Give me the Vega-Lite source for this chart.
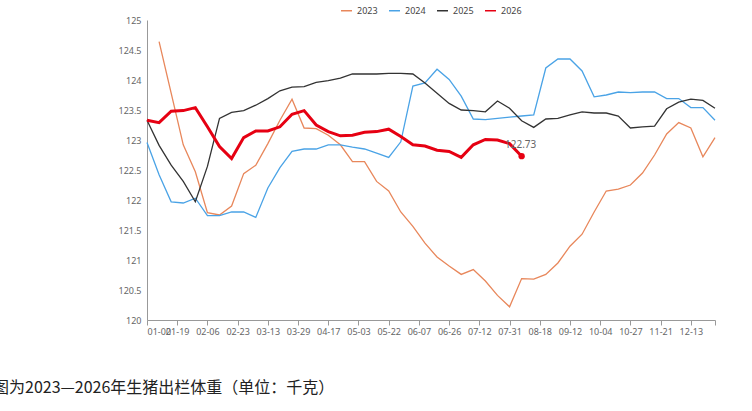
{
"$schema":"https://vega.github.io/schema/vega-lite/v6.json",
"width":568,"height":300,
"autosize":{"type":"none"},
"padding":{"left":147,"top":20,"right":37,"bottom":91},
"background":"white",
"title":{"text":"图为2023—2026年生猪出栏体重（单位：千克）","orient":"bottom","anchor":"start","dx":-125,"offset":44,"fontSize":16,"fontWeight":"normal","font":"Noto Sans CJK SC","color":"#222"},
"datasets":{"d":[
{"s":"2023","i":1,"v":124.64},{"s":"2023","i":2,"v":123.78},{"s":"2023","i":3,"v":122.92},{"s":"2023","i":4,"v":122.47},{"s":"2023","i":5,"v":121.79},{"s":"2023","i":6,"v":121.75},{"s":"2023","i":7,"v":121.9},{"s":"2023","i":8,"v":122.44},{"s":"2023","i":9,"v":122.58},{"s":"2023","i":10,"v":122.94},{"s":"2023","i":11,"v":123.33},{"s":"2023","i":12,"v":123.68},{"s":"2023","i":13,"v":123.2},{"s":"2023","i":14,"v":123.19},{"s":"2023","i":15,"v":123.08},{"s":"2023","i":16,"v":122.92},{"s":"2023","i":17,"v":122.64},{"s":"2023","i":18,"v":122.64},{"s":"2023","i":19,"v":122.31},{"s":"2023","i":20,"v":122.15},{"s":"2023","i":21,"v":121.8},{"s":"2023","i":22,"v":121.56},{"s":"2023","i":23,"v":121.28},{"s":"2023","i":24,"v":121.05},{"s":"2023","i":25,"v":120.9},{"s":"2023","i":26,"v":120.76},{"s":"2023","i":27,"v":120.84},{"s":"2023","i":28,"v":120.65},{"s":"2023","i":29,"v":120.41},{"s":"2023","i":30,"v":120.22},{"s":"2023","i":31,"v":120.69},{"s":"2023","i":32,"v":120.68},{"s":"2023","i":33,"v":120.76},{"s":"2023","i":34,"v":120.95},{"s":"2023","i":35,"v":121.23},{"s":"2023","i":36,"v":121.43},{"s":"2023","i":37,"v":121.8},{"s":"2023","i":38,"v":122.15},{"s":"2023","i":39,"v":122.18},{"s":"2023","i":40,"v":122.25},{"s":"2023","i":41,"v":122.45},{"s":"2023","i":42,"v":122.75},{"s":"2023","i":43,"v":123.1},{"s":"2023","i":44,"v":123.29},{"s":"2023","i":45,"v":123.2},{"s":"2023","i":46,"v":122.72},{"s":"2023","i":47,"v":123.04},
{"s":"2024","i":0,"v":122.96},{"s":"2024","i":1,"v":122.42},{"s":"2024","i":2,"v":121.97},{"s":"2024","i":3,"v":121.95},{"s":"2024","i":4,"v":122.03},{"s":"2024","i":5,"v":121.74},{"s":"2024","i":6,"v":121.74},{"s":"2024","i":7,"v":121.8},{"s":"2024","i":8,"v":121.8},{"s":"2024","i":9,"v":121.71},{"s":"2024","i":10,"v":122.2},{"s":"2024","i":11,"v":122.54},{"s":"2024","i":12,"v":122.81},{"s":"2024","i":13,"v":122.85},{"s":"2024","i":14,"v":122.85},{"s":"2024","i":15,"v":122.92},{"s":"2024","i":16,"v":122.92},{"s":"2024","i":17,"v":122.88},{"s":"2024","i":18,"v":122.85},{"s":"2024","i":19,"v":122.78},{"s":"2024","i":20,"v":122.71},{"s":"2024","i":21,"v":122.97},{"s":"2024","i":22,"v":123.9},{"s":"2024","i":23,"v":123.95},{"s":"2024","i":24,"v":124.18},{"s":"2024","i":25,"v":124.01},{"s":"2024","i":26,"v":123.73},{"s":"2024","i":27,"v":123.35},{"s":"2024","i":28,"v":123.34},{"s":"2024","i":29,"v":123.36},{"s":"2024","i":30,"v":123.38},{"s":"2024","i":31,"v":123.4},{"s":"2024","i":32,"v":123.42},{"s":"2024","i":33,"v":124.2},{"s":"2024","i":34,"v":124.35},{"s":"2024","i":35,"v":124.35},{"s":"2024","i":36,"v":124.15},{"s":"2024","i":37,"v":123.72},{"s":"2024","i":38,"v":123.75},{"s":"2024","i":39,"v":123.8},{"s":"2024","i":40,"v":123.79},{"s":"2024","i":41,"v":123.8},{"s":"2024","i":42,"v":123.8},{"s":"2024","i":43,"v":123.69},{"s":"2024","i":44,"v":123.69},{"s":"2024","i":45,"v":123.54},{"s":"2024","i":46,"v":123.54},{"s":"2024","i":47,"v":123.33},
{"s":"2025","i":0,"v":123.33},{"s":"2025","i":1,"v":122.91},{"s":"2025","i":2,"v":122.58},{"s":"2025","i":3,"v":122.31},{"s":"2025","i":4,"v":121.97},{"s":"2025","i":5,"v":122.56},{"s":"2025","i":6,"v":123.36},{"s":"2025","i":7,"v":123.46},{"s":"2025","i":8,"v":123.49},{"s":"2025","i":9,"v":123.58},{"s":"2025","i":10,"v":123.69},{"s":"2025","i":11,"v":123.82},{"s":"2025","i":12,"v":123.88},{"s":"2025","i":13,"v":123.89},{"s":"2025","i":14,"v":123.96},{"s":"2025","i":15,"v":123.99},{"s":"2025","i":16,"v":124.03},{"s":"2025","i":17,"v":124.1},{"s":"2025","i":18,"v":124.1},{"s":"2025","i":19,"v":124.1},{"s":"2025","i":20,"v":124.11},{"s":"2025","i":21,"v":124.11},{"s":"2025","i":22,"v":124.1},{"s":"2025","i":23,"v":123.95},{"s":"2025","i":24,"v":123.78},{"s":"2025","i":25,"v":123.61},{"s":"2025","i":26,"v":123.5},{"s":"2025","i":27,"v":123.49},{"s":"2025","i":28,"v":123.47},{"s":"2025","i":29,"v":123.65},{"s":"2025","i":30,"v":123.53},{"s":"2025","i":31,"v":123.32},{"s":"2025","i":32,"v":123.21},{"s":"2025","i":33,"v":123.35},{"s":"2025","i":34,"v":123.36},{"s":"2025","i":35,"v":123.42},{"s":"2025","i":36,"v":123.47},{"s":"2025","i":37,"v":123.45},{"s":"2025","i":38,"v":123.45},{"s":"2025","i":39,"v":123.4},{"s":"2025","i":40,"v":123.2},{"s":"2025","i":41,"v":123.22},{"s":"2025","i":42,"v":123.23},{"s":"2025","i":43,"v":123.52},{"s":"2025","i":44,"v":123.63},{"s":"2025","i":45,"v":123.68},{"s":"2025","i":46,"v":123.66},{"s":"2025","i":47,"v":123.53},
{"s":"2026","i":0,"v":123.33},{"s":"2026","i":1,"v":123.29},{"s":"2026","i":2,"v":123.48},{"s":"2026","i":3,"v":123.49},{"s":"2026","i":4,"v":123.54},{"s":"2026","i":5,"v":123.22},{"s":"2026","i":6,"v":122.89},{"s":"2026","i":7,"v":122.69},{"s":"2026","i":8,"v":123.04},{"s":"2026","i":9,"v":123.15},{"s":"2026","i":10,"v":123.15},{"s":"2026","i":11,"v":123.22},{"s":"2026","i":12,"v":123.43},{"s":"2026","i":13,"v":123.49},{"s":"2026","i":14,"v":123.25},{"s":"2026","i":15,"v":123.14},{"s":"2026","i":16,"v":123.07},{"s":"2026","i":17,"v":123.08},{"s":"2026","i":18,"v":123.13},{"s":"2026","i":19,"v":123.14},{"s":"2026","i":20,"v":123.18},{"s":"2026","i":21,"v":123.06},{"s":"2026","i":22,"v":122.92},{"s":"2026","i":23,"v":122.9},{"s":"2026","i":24,"v":122.83},{"s":"2026","i":25,"v":122.81},{"s":"2026","i":26,"v":122.71},{"s":"2026","i":27,"v":122.92},{"s":"2026","i":28,"v":123.01},{"s":"2026","i":29,"v":123.0},{"s":"2026","i":30,"v":122.94},{"s":"2026","i":31,"v":122.73}
]},
"data":{"name":"d"},
"config":{"view":{"stroke":null},"font":"Noto Sans","axis":{"labelColor":"#666","labelFontSize":9,"domainColor":"#999","tickColor":"#999","grid":false}},
"encoding":{
"x":{"field":"i","type":"quantitative","scale":{"domain":[0,47],"nice":false,"zero":false},"axis":{"title":null,"labelOverlap":false,"values":[0,2.5,5,7.5,10,12.5,15,17.5,20,22.5,25,27.5,30,32.5,35,37.5,40,42.5,45,47],"labelExpr":"['01-02','01-19','02-06','02-23','03-13','03-29','04-17','05-03','05-22','06-07','06-26','07-12','07-31','08-18','09-12','10-04','10-27','11-21','12-13',''][round(datum.value/2.5)]","tickSize":5,"labelPadding":2}},
"y":{"field":"v","type":"quantitative","scale":{"domain":[120,125],"zero":false,"nice":false},"axis":{"title":null,"values":[120,120.5,121,121.5,122,122.5,123,123.5,124,124.5,125],"format":"~g","tickSize":0,"labelPadding":6}},
"color":{"field":"s","type":"nominal","scale":{"domain":["2023","2024","2025","2026"],"range":["#e8875b","#4aa3e6","#333333","#e60012"]},"legend":{"orient":"none","legendX":193,"legendY":-16,"direction":"horizontal","title":null,"symbolType":"stroke","symbolSize":120,"symbolStrokeWidth":1.5,"labelFontSize":9,"labelColor":"#444","columnPadding":8}}
},
"layer":[
{"mark":{"type":"line","strokeWidth":1.3},"transform":[{"filter":"datum.s!='2026'"}]},
{"mark":{"type":"line","strokeWidth":3},"transform":[{"filter":"datum.s=='2026'"}]},
{"mark":{"type":"point","filled":true,"size":40,"opacity":1},"transform":[{"filter":"datum.s=='2026' && datum.i==31"}]},
{"mark":{"type":"text","dx":-1,"dy":-11,"fontSize":10,"color":"#666"},"transform":[{"filter":"datum.s=='2026' && datum.i==31"}],"encoding":{"text":{"field":"v","type":"quantitative","format":".2f"},"color":{"value":"#666"}}}
]
}
